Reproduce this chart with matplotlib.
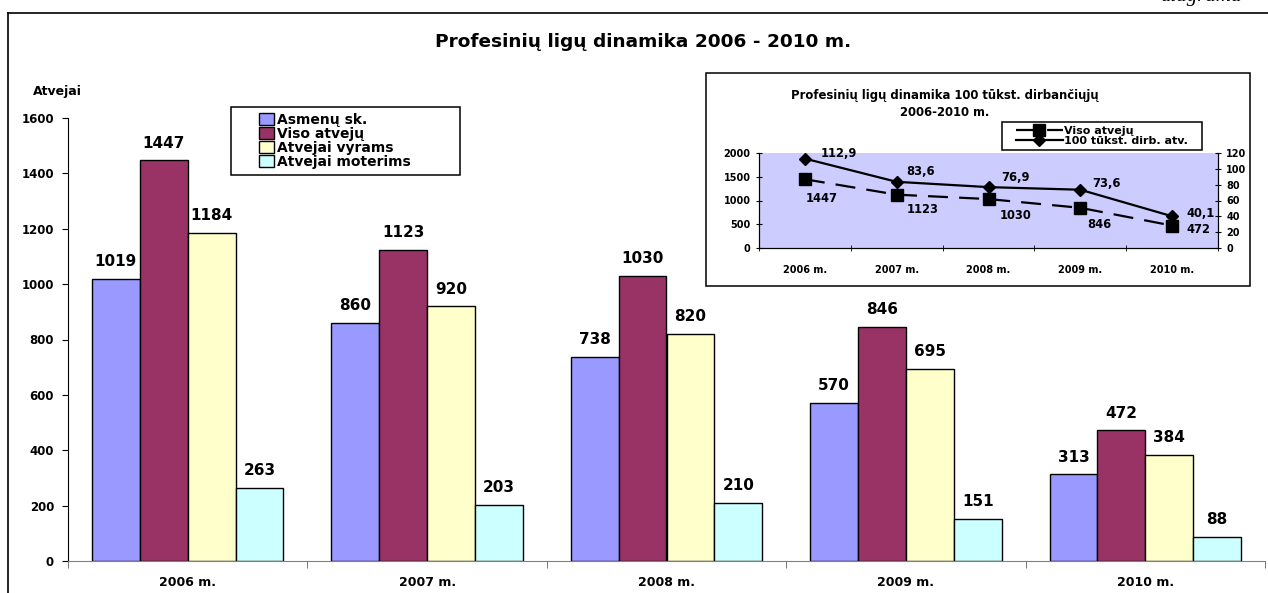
import matplotlib
matplotlib.use("Agg")
import matplotlib.pyplot as plt
from matplotlib.lines import Line2D
from matplotlib.patches import Rectangle
import numpy as np

plt.rcParams["font.family"] = ["DejaVu Sans"]
plt.rcParams["font.weight"] = "bold"

years = ["2006 m.", "2007 m.", "2008 m.", "2009 m.", "2010 m."]
series_names = ["Asmenų sk.", "Viso atvejų", "Atvejai vyrams", "Atvejai moterims"]
asmenu = [1019, 860, 738, 570, 313]
viso = [1447, 1123, 1030, 846, 472]
vyrams = [1184, 920, 820, 695, 384]
moterims = [263, 203, 210, 151, 88]
per_100k = [112.9, 83.6, 76.9, 73.6, 40.1]
bar_colors = ["#9999FF", "#993366", "#FFFFCC", "#CCFFFF"]

W, H = 1268, 593
PT = 0.72  # px -> pt at 100 dpi


def fig_rect(x0, y0, x1, y1):
    """pixel box (top-left origin) -> figure fraction rect"""
    return [x0 / W, 1 - y1 / H, (x1 - x0) / W, (y1 - y0) / H]


def fig_box(x0, y0, x1, y1, z=3, fc="white"):
    r = fig_rect(x0, y0, x1, y1)
    fig.add_artist(Rectangle((r[0], r[1]), r[2], r[3], transform=fig.transFigure,
                             facecolor=fc, edgecolor="black", lw=1.1, zorder=z))


fig = plt.figure(figsize=(W / 100, H / 100), dpi=100)

# outer frame (partly cut off)
fig.add_artist(Line2D([8 / W, 1], [1 - 13 / H] * 2, color="black", lw=1.2))
fig.add_artist(Line2D([8 / W] * 2, [0, 1 - 13 / H], color="black", lw=1.2))
fig.text(1160 / W, 1 - 1 / H, "diagrama", family="Liberation Serif",
         fontweight="normal", fontsize=15, va="baseline", style="italic")

# main bar chart
ax = fig.add_axes(fig_rect(68, 118, 1265, 561))
x = np.arange(len(years))
bw = 0.2
all_series = [asmenu, viso, vyrams, moterims]
for i, (vals, col, name) in enumerate(zip(all_series, bar_colors, series_names)):
    pos = x - 0.3 + i * bw
    bars = ax.bar(pos, vals, bw, color=col, edgecolor="black", lw=1, label=name)
    for b, v in zip(bars, vals):
        ax.annotate(str(v), (b.get_x() + b.get_width() / 2, v), xytext=(0, 7),
                    textcoords="offset points", ha="center", va="bottom",
                    fontsize=11, fontweight="bold")

ax.set_xlim(-0.5, 4.5)
ax.set_ylim(0, 1600)
ax.set_yticks(range(0, 1601, 200))
ax.set_xticks(x)
ax.set_xticklabels(years)
ax.set_xticks(np.arange(-0.5, 4.6, 1), minor=True)
ax.tick_params(axis="x", which="major", length=0, pad=11, labelsize=9)
ax.tick_params(axis="x", which="minor", length=5, direction="out", color="#606060")
ax.tick_params(axis="y", length=4, labelsize=8.5, pad=6)
for s in ["top", "right"]:
    ax.spines[s].set_visible(False)
ax.spines["bottom"].set_color("#808080")
fig.text(33 / W, 1 - 91 / H, "Atvejai", fontsize=9, va="center")
fig.text(643 / W, 1 - 42 / H, "Profesinių ligų dinamika 2006 - 2010 m.",
         fontsize=13.3, ha="center", va="center")

# main legend: frame drawn separately, entries placed inside
fig_box(231, 107, 460, 175, z=3)
handles, labels = ax.get_legend_handles_labels()
leg = fig.legend(handles, labels, loc="center left",
                 bbox_to_anchor=(259 / W, 1 - 141 / H),
                 bbox_transform=fig.transFigure, fontsize=10, frameon=False,
                 handlelength=1.1, handleheight=0.9, handletextpad=0.2,
                 labelspacing=0.0, borderpad=0, borderaxespad=0)
leg.set_zorder(10)

# inset
fig_box(706, 73, 1250, 286, z=3)
ins = fig.add_axes(fig_rect(759, 153, 1218, 248), zorder=4)
ins.set_facecolor("#CCCCFF")
ins2 = ins.twinx()
ln1, = ins.plot(x, viso, color="black", lw=1.6, ls=(0, (9, 5)), marker="s",
                markersize=8, label="Viso atvejų")
ln2, = ins2.plot(x, per_100k, color="black", lw=1.6, marker="D", markersize=6,
                 label="100 tūkst. dirb. atv.")
ins.set_xlim(-0.5, 4.5)
ins.set_ylim(0, 2000)
ins2.set_ylim(0, 120)
ins.set_yticks(range(0, 2001, 500))
ins2.set_yticks(range(0, 121, 20))
ins.set_xticks(x)
ins.set_xticklabels(years)
ins.set_xticks(np.arange(-0.5, 4.6, 1), minor=True)
ins.tick_params(axis="x", which="major", length=0, pad=12, labelsize=7)
ins.tick_params(axis="x", which="minor", length=5, direction="inout")
ins.tick_params(axis="y", length=5, labelsize=7, direction="inout")
ins2.tick_params(axis="y", length=5, labelsize=7, direction="inout")
for a in (ins, ins2):
    a.spines["top"].set_visible(False)

# label offsets in pixels from each point
sq_off = [(1, -19), (10, -15), (11, -16), (7, -17), (14, -4)]
di_off = [(16, 5), (10, 10), (13, 10), (12, 6), (14, 3)]
for i in range(len(years)):
    ins.annotate(str(viso[i]), (x[i], viso[i]),
                 xytext=(sq_off[i][0] * PT, sq_off[i][1] * PT),
                 textcoords="offset points", ha="left", va="center",
                 fontsize=8.3, fontweight="bold")
    ins2.annotate(f"{per_100k[i]:.1f}".replace(".", ","), (x[i], per_100k[i]),
                  xytext=(di_off[i][0] * PT, di_off[i][1] * PT),
                  textcoords="offset points", ha="left", va="center",
                  fontsize=8.3, fontweight="bold")

fig_box(1002, 122, 1202, 150, z=8)
ileg = fig.legend([ln1, ln2], [ln1.get_label(), ln2.get_label()],
                  loc="center left", bbox_to_anchor=(1016 / W, 1 - 136 / H),
                  bbox_transform=fig.transFigure, fontsize=8, frameon=False,
                  handlelength=4.2, handletextpad=0.15, labelspacing=0.0,
                  borderpad=0, borderaxespad=0)
ileg.set_zorder(10)
fig.text(945 / W, 1 - 104 / H, "Profesinių ligų dinamika 100 tūkst. dirbančiųjų\n2006-2010 m.",
         fontsize=8.4, ha="center", va="center", linespacing=1.45, zorder=5)

fig.savefig("out.png", dpi=100)
